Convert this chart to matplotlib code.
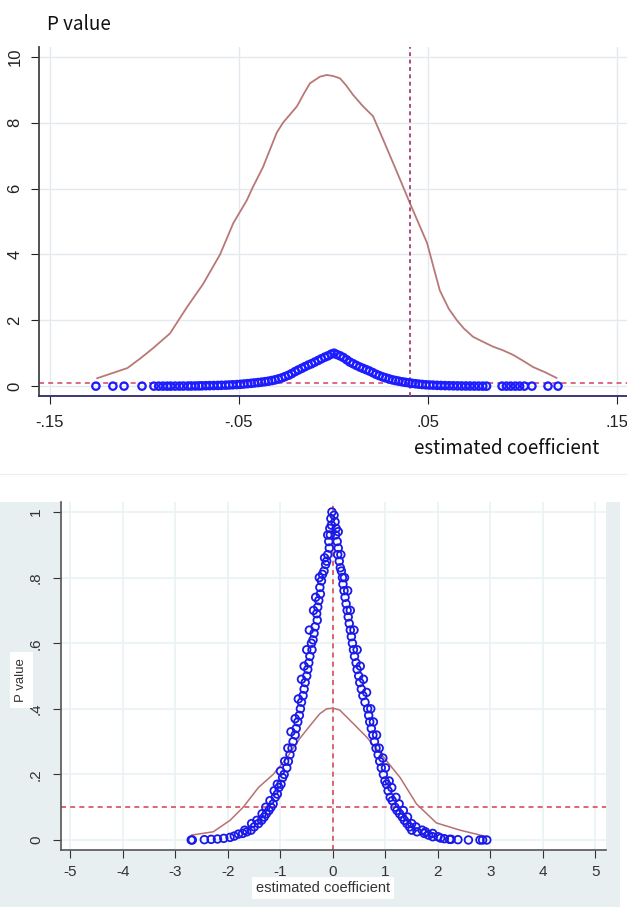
import matplotlib
matplotlib.use('Agg')
import matplotlib.pyplot as plt
from matplotlib.patches import Rectangle
from matplotlib.lines import Line2D

W, H = 627, 907

# painel de cima: densidade + p-valores
top_dens_x = [-0.125, -0.1167, -0.109, -0.102, -0.0955, -0.0865, -0.0775, -0.069, -0.060, -0.053,
              -0.0458, -0.0426, -0.0373, -0.030, -0.0267, -0.0193, -0.0155, -0.0124, -0.0071, -0.0035,
              -0.0003, 0.0034, 0.0065, 0.0103, 0.0156, 0.0209, 0.0262, 0.0336, 0.0405, 0.045,
              0.0495, 0.053, 0.0563, 0.061, 0.0653, 0.069, 0.0738, 0.079, 0.0844, 0.090,
              0.095, 0.100, 0.1056, 0.112, 0.118]
top_dens_y = [0.24, 0.40, 0.55, 0.85, 1.15, 1.6, 2.4, 3.1, 4.0, 4.95,
              5.65, 6.05, 6.65, 7.7, 8.0, 8.5, 8.9, 9.2, 9.4, 9.45,
              9.42, 9.35, 9.15, 8.85, 8.5, 8.2, 7.5, 6.5, 5.55, 4.95,
              4.35, 3.6, 2.9, 2.35, 2.0, 1.75, 1.5, 1.35, 1.2, 1.08,
              0.95, 0.78, 0.58, 0.42, 0.25]

top_coef_left = [-0.1257, -0.1167, -0.1108, -0.1013, -0.0950, -0.0925, -0.0902, -0.0880, -0.0861, -0.0838,
                 -0.0815, -0.0794, -0.0770, -0.0752, -0.0731, -0.0712, -0.0696, -0.0675, -0.0655, -0.0634,
                 -0.0612, -0.0593, -0.0571, -0.0552, -0.0533, -0.0511, -0.0492, -0.0474, -0.0455, -0.0436,
                 -0.0418, -0.0399, -0.0381, -0.0362, -0.0344, -0.0326, -0.0309, -0.0291, -0.0273, -0.0256,
                 -0.0238, -0.0221, -0.0203, -0.0186, -0.0168, -0.0151, -0.0133, -0.0116, -0.0099, -0.0081,
                 -0.0064, -0.0046, -0.0029, -0.0012, 0.0003]
top_p_left = [0, 0, 0, 0, 0, 0, 0, 0, 0, 0.001,
              0.001, 0.002, 0.003, 0.004, 0.005, 0.007, 0.009, 0.012, 0.015, 0.018,
              0.021, 0.025, 0.029, 0.034, 0.040, 0.047, 0.055, 0.064, 0.074, 0.085,
              0.097, 0.108, 0.12, 0.135, 0.15, 0.17, 0.19, 0.22, 0.25, 0.29,
              0.33, 0.38, 0.44, 0.49, 0.54, 0.59, 0.64, 0.68, 0.73, 0.78,
              0.83, 0.88, 0.92, 0.97, 1.0]
top_coef_right = [0.0018, 0.0035, 0.0052, 0.0070, 0.0087, 0.0104, 0.0121, 0.0139, 0.0156, 0.0173,
                  0.0190, 0.0208, 0.0225, 0.0242, 0.0260, 0.0277, 0.0294, 0.0312, 0.0329, 0.0346,
                  0.0364, 0.0381, 0.0399, 0.0416, 0.0434, 0.0452, 0.0470, 0.0489, 0.0508, 0.0527,
                  0.0548, 0.0569, 0.0590, 0.0612, 0.0634, 0.0656, 0.0678, 0.0700, 0.0722, 0.0745,
                  0.0768, 0.0790, 0.0810, 0.0892, 0.0915, 0.0938, 0.0962, 0.0985, 0.1010, 0.1050,
                  0.1135, 0.1188]
top_p_right = [0.96, 0.92, 0.87, 0.80, 0.73, 0.68, 0.63, 0.58, 0.54, 0.50,
               0.46, 0.41, 0.36, 0.32, 0.28, 0.25, 0.22, 0.19, 0.17, 0.15,
               0.13, 0.115, 0.10, 0.085, 0.072, 0.06, 0.05, 0.04, 0.034, 0.03,
               0.024, 0.019, 0.015, 0.012, 0.009, 0.007, 0.005, 0.004, 0.003, 0.002,
               0.001, 0, 0, 0, 0, 0, 0, 0, 0, 0,
               0, 0]
top_vline = 0.0405
top_hline = 0.1
top_xticks = [-0.15, -0.05, 0.05, 0.15]
top_xlabels = ['-.15', '-.05', '.05', '.15']
top_yticks = [0, 2, 4, 6, 8, 10]
top_ylabels = ['0', '2', '4', '6', '8', '10']

# painel de baixo
bot_dens_x = [-2.69, -2.28, -1.96, -1.71, -1.42, -1.14, -0.88, -0.63, -0.38, -0.25,
              -0.12, 0.0, 0.13, 0.38, 0.64, 0.90, 1.28, 1.59, 1.97, 2.42, 2.93]
bot_dens_y = [0.015, 0.025, 0.06, 0.10, 0.16, 0.20, 0.25, 0.31, 0.36, 0.385,
              0.40, 0.402, 0.396, 0.356, 0.314, 0.265, 0.19, 0.11, 0.052, 0.03, 0.01]

bot_coef_left = [-0.02, -0.04, -0.03, -0.06, -0.05, -0.08, -0.07, -0.10, -0.12, -0.14,
                 -0.17, -0.20, -0.22, -0.25, -0.24, -0.27, -0.29, -0.31, -0.30, -0.34,
                 -0.36, -0.38, -0.41, -0.40, -0.44, -0.46, -0.48, -0.50, -0.53, -0.55,
                 -0.57, -0.60, -0.62, -0.64, -0.67, -0.70, -0.72, -0.76, -0.78, -0.82,
                 -0.85, -0.88, -0.93, -0.96, -0.99, -1.03, -1.06, -1.10, -1.14, -1.18,
                 -1.22, -1.27, -1.31, -1.36, -1.42, -1.50, -1.56, -1.64, -1.72, -1.80,
                 -1.88, -1.96, -2.08, -2.20, -2.32, -2.45, -2.68, -2.70,
                 -0.10, -0.16, -0.26, -0.33, -0.37, -0.45, -0.50, -0.55, -0.60, -0.66,
                 -0.72, -0.80, -0.86, -0.92, -1.00, -1.06, -1.12, -1.20, -1.28, -1.35,
                 -1.45, -1.55, -1.68]
bot_p_left = [1.00, 0.98, 0.96, 0.95, 0.93, 0.91, 0.89, 0.87, 0.85, 0.84,
              0.82, 0.81, 0.79, 0.77, 0.75, 0.73, 0.71, 0.69, 0.67, 0.65,
              0.63, 0.61, 0.60, 0.58, 0.56, 0.54, 0.52, 0.50, 0.48, 0.46,
              0.44, 0.42, 0.40, 0.38, 0.36, 0.34, 0.32, 0.30, 0.28, 0.26,
              0.24, 0.22, 0.20, 0.19, 0.17, 0.16, 0.14, 0.13, 0.11, 0.10,
              0.09, 0.08, 0.07, 0.06, 0.05, 0.04, 0.03, 0.025, 0.02, 0.018,
              0.012, 0.008, 0.005, 0.003, 0.002, 0.001, 0.0, 0.0,
              0.93, 0.86, 0.80, 0.74, 0.70, 0.64, 0.58, 0.53, 0.49, 0.43,
              0.37, 0.33, 0.28, 0.24, 0.21, 0.17, 0.15, 0.12, 0.10, 0.08,
              0.06, 0.05, 0.03]
bot_coef_right = [0.02, 0.04, 0.06, 0.05, 0.08, 0.10, 0.09, 0.12, 0.14, 0.16,
                  0.18, 0.19, 0.21, 0.23, 0.25, 0.27, 0.29, 0.31, 0.33, 0.35,
                  0.37, 0.39, 0.41, 0.44, 0.46, 0.49, 0.51, 0.54, 0.57, 0.61,
                  0.66, 0.68, 0.70, 0.73, 0.76, 0.79, 0.82, 0.86, 0.89, 0.92,
                  0.96, 0.99, 1.02, 1.05, 1.09, 1.13, 1.18, 1.22, 1.27, 1.32,
                  1.36, 1.41, 1.46, 1.50, 1.60, 1.70, 1.74, 1.82, 1.90, 2.00,
                  2.05, 2.12, 2.22, 2.25, 2.38, 2.58, 2.80, 2.85, 2.93,
                  0.10, 0.15, 0.22, 0.28, 0.33, 0.40, 0.46, 0.52, 0.58, 0.64,
                  0.72, 0.77, 0.83, 0.88, 0.95, 1.00, 1.07, 1.12, 1.20, 1.26,
                  1.34, 1.42, 1.50, 1.58, 1.76, 1.90]
bot_p_right = [0.99, 0.97, 0.95, 0.93, 0.91, 0.89, 0.87, 0.85, 0.83, 0.82,
               0.80, 0.78, 0.76, 0.74, 0.72, 0.70, 0.68, 0.66, 0.64, 0.62,
               0.60, 0.58, 0.56, 0.54, 0.52, 0.50, 0.48, 0.46, 0.44, 0.42,
               0.40, 0.38, 0.36, 0.34, 0.32, 0.30, 0.28, 0.26, 0.24, 0.22,
               0.20, 0.18, 0.17, 0.15, 0.13, 0.12, 0.10, 0.09, 0.08, 0.07,
               0.06, 0.05, 0.04, 0.03, 0.025, 0.03, 0.02, 0.015, 0.02, 0.01,
               0.006, 0.004, 0.002, 0.002, 0.001, 0.0, 0.0, 0.0, 0.0,
               0.94, 0.87, 0.80, 0.76, 0.70, 0.64, 0.58, 0.53, 0.49, 0.45,
               0.40, 0.36, 0.32, 0.28, 0.25, 0.22, 0.18, 0.16, 0.13, 0.11,
               0.09, 0.07, 0.05, 0.04, 0.025, 0.01]
bot_vline = 0.0
bot_hline = 0.1
bot_xticks = [-5, -4, -3, -2, -1, 0, 1, 2, 3, 4, 5]
bot_xlabels = ['-5', '-4', '-3', '-2', '-1', '0', '1', '2', '3', '4', '5']
bot_yticks = [0, 0.2, 0.4, 0.6, 0.8, 1]
bot_ylabels = ['0', '.2', '.4', '.6', '.8', '1']

plt.rcParams['font.family'] = ['Liberation Sans', 'DejaVu Sans']

fig = plt.figure(figsize=(W / 100, H / 100), dpi=100)
fig.patch.set_facecolor('white')


def box(x0, y0, x1, y1):
    # pixels (topo-esquerda) -> fração da figura
    return [x0 / W, 1 - y1 / H, (x1 - x0) / W, (y1 - y0) / H]


# fundo cinza-azulado do painel de baixo
fig.add_artist(Rectangle((0, 0), 620 / W, 1 - 502 / H, transform=fig.transFigure,
                         facecolor='#e8eff1', edgecolor='none', zorder=0))
fig.add_artist(Line2D([0, 1], [1 - 474 / H] * 2, transform=fig.transFigure,
                      color='#eeeeee', lw=0.8, zorder=0))

# ---------- painel de cima ----------
ax1 = fig.add_axes(box(39, 47, 627, 396))
ax1.set_xlim(-0.1558, 0.1553)
ax1.set_ylim(-0.30, 10.30)
ax1.grid(True, color='#e4e8ef', lw=1)
ax1.set_axisbelow(True)
ax1.plot(top_dens_x, top_dens_y, color='#b87878', lw=1.3, zorder=3)
ax1.axvline(top_vline, color='#b04a80', lw=1.4, ls=(0, (2, 1.8)), zorder=4)
ax1.axhline(top_hline, color='#d45070', lw=1.2, ls=(0, (3, 2.5)), zorder=2)
ax1.scatter(top_coef_left + top_coef_right, top_p_left + top_p_right, s=28,
            facecolors='none', edgecolors='#1c1cff', linewidths=1.6, zorder=5)
for s in ['top', 'right']:
    ax1.spines[s].set_visible(False)
ax1.spines['left'].set_color('#444444')
ax1.spines['left'].set_linewidth(1.3)
ax1.spines['bottom'].set_color('#2a2a70')
ax1.spines['bottom'].set_linewidth(1.3)
ax1.set_xticks(top_xticks)
ax1.set_xticklabels(top_xlabels, fontsize=12)
ax1.set_yticks(top_yticks)
ax1.set_yticklabels(top_ylabels, fontsize=12, rotation=90, va='center')
ax1.tick_params(axis='x', length=6, pad=8, colors='#222222')
ax1.tick_params(axis='y', length=6, pad=6, colors='#222222')

fig.text(47 / W, 1 - 25 / H, 'P value', fontsize=13.5, family=['Noto Sans CJK SC', 'DejaVu Sans'],
         ha='left', va='center', color='#111111')
fig.text(414 / W, 1 - 448 / H, 'estimated coefficient', fontsize=13.5,
         family=['Noto Sans CJK SC', 'DejaVu Sans'], ha='left', va='center', color='#111111')

# ---------- painel de baixo ----------
ax2 = fig.add_axes(box(61, 502, 606, 850))
ax2.set_facecolor('white')
ax2.set_xlim(-5.18, 5.20)
ax2.set_ylim(-0.0305, 1.0305)
ax2.grid(True, color='#eaf2f4', lw=1.2)
ax2.set_axisbelow(True)
ax2.axhline(bot_hline, color='#d84c5c', lw=1.2, ls=(0, (3, 2.5)), zorder=2)
ax2.axvline(bot_vline, color='#d84c5c', lw=1.2, ls=(0, (3, 2.5)), zorder=2)
ax2.plot(bot_dens_x, bot_dens_y, color='#b87070', lw=1.1, zorder=3)
ax2.scatter(bot_coef_left + bot_coef_right, bot_p_left + bot_p_right, s=30,
            facecolors='none', edgecolors='#1a1ae8', linewidths=1.3, zorder=5)
for s in ['top', 'right']:
    ax2.spines[s].set_visible(False)
for s in ['left', 'bottom']:
    ax2.spines[s].set_color('#555555')
    ax2.spines[s].set_linewidth(1.2)
ax2.set_xticks(bot_xticks)
ax2.set_xticklabels(bot_xlabels, fontsize=11)
ax2.set_yticks(bot_yticks)
ax2.set_yticklabels(bot_ylabels, fontsize=11, rotation=90, va='center')
ax2.tick_params(axis='x', length=6, pad=5, colors='#333333')
ax2.tick_params(axis='y', length=6, pad=7, colors='#333333')

fig.text(21.5 / W, 1 - 680 / H, 'P value', fontsize=9.5, rotation=90, ha='center', va='center',
         color='#333333', bbox=dict(boxstyle='square,pad=0.45', facecolor='white', edgecolor='none'))
fig.text(323 / W, 1 - 888 / H, 'estimated coefficient', fontsize=10.5, ha='center', va='center',
         color='#333333', bbox=dict(boxstyle='square,pad=0.3', facecolor='white', edgecolor='none'))

plt.savefig('out.png', dpi=100, facecolor='white')
